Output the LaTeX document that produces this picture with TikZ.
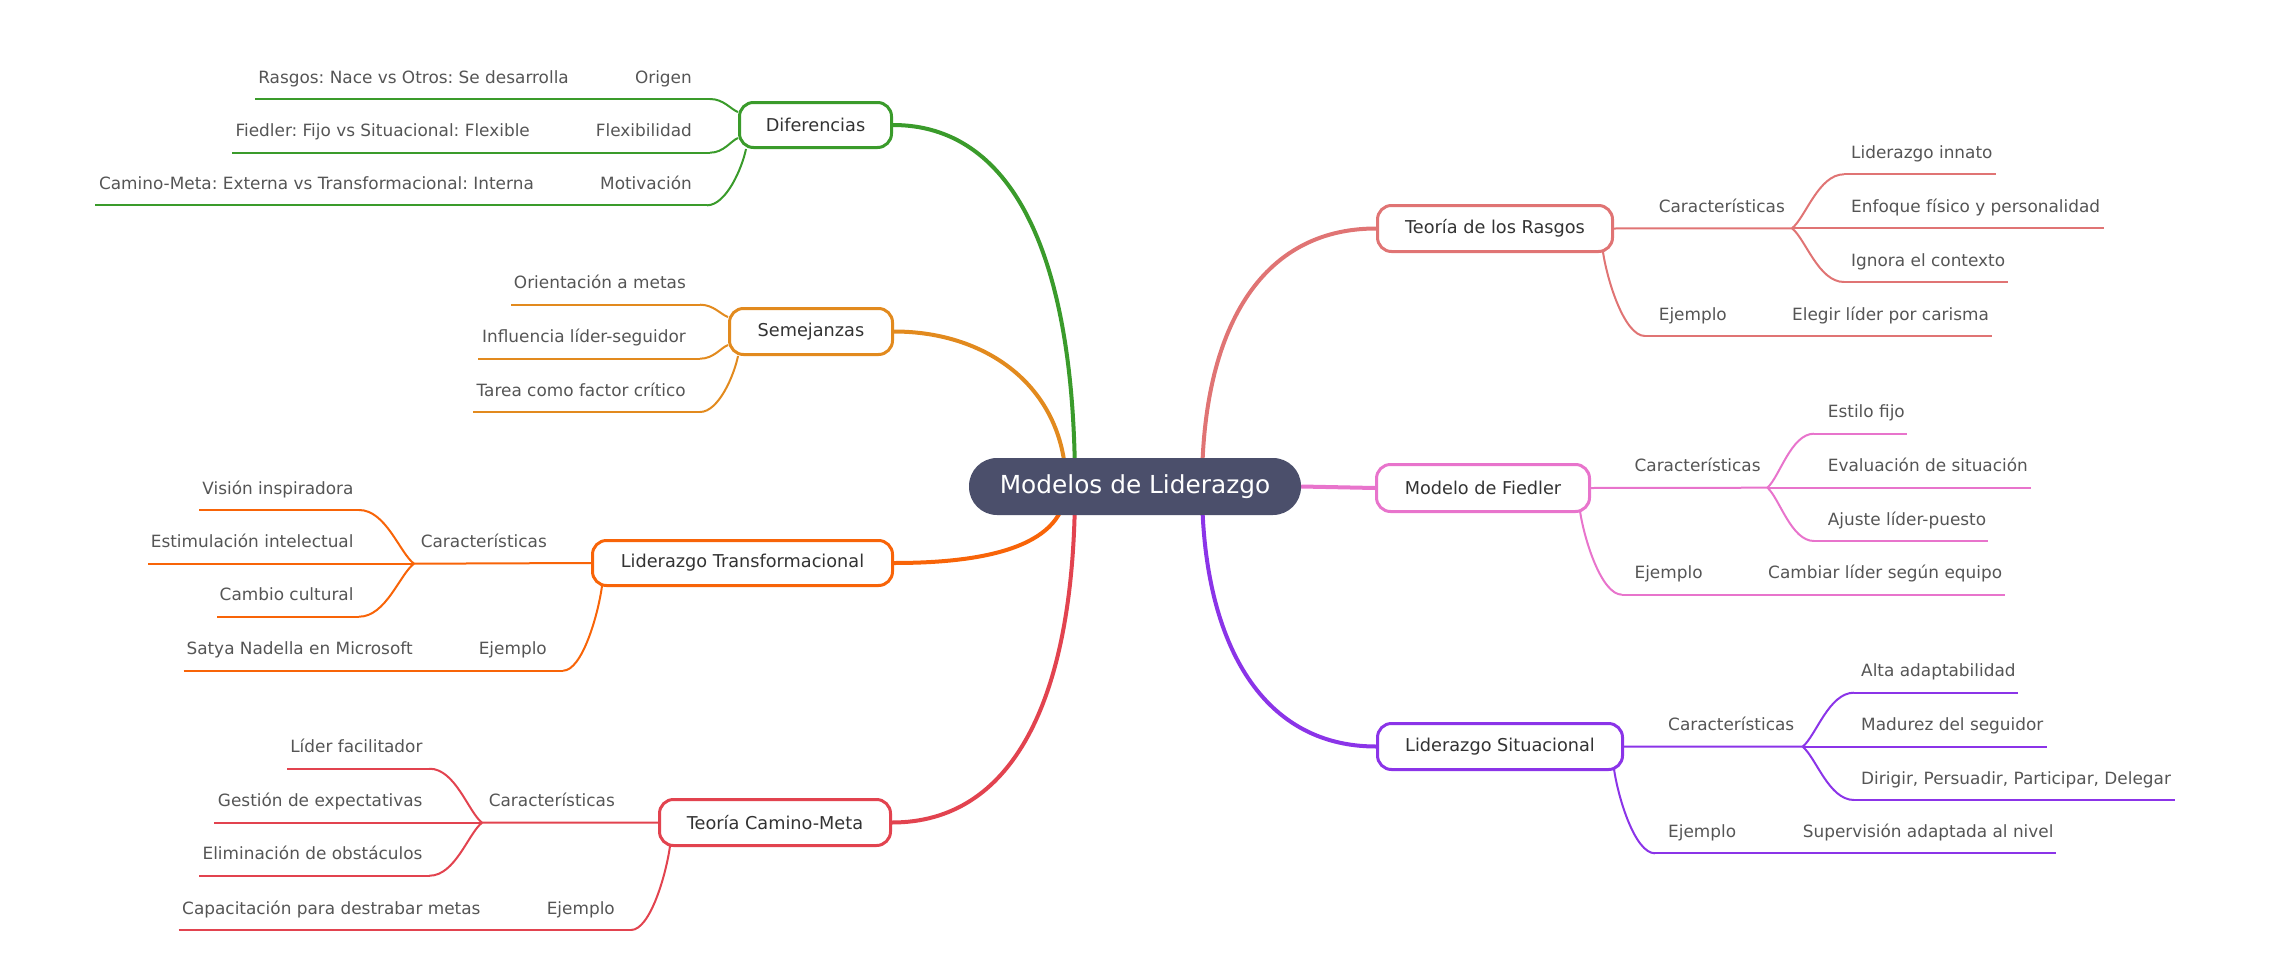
\documentclass[tikz,border=0pt]{standalone}
\usepackage{fontspec}
\setmainfont{DejaVu Sans}
\usetikzlibrary{calc}
\pgfdeclarelayer{bg}
\pgfsetlayers{bg,main}
\frenchspacing
\definecolor{cgreen}{HTML}{3A9B2B}
\definecolor{csem}{HTML}{E28A1E}
\definecolor{ctra}{HTML}{F86408}
\definecolor{ccam}{HTML}{E2434F}
\definecolor{cras}{HTML}{E07474}
\definecolor{cfie}{HTML}{E874CC}
\definecolor{csit}{HTML}{8B34E8}
\definecolor{rootc}{HTML}{4B4F6B}
\definecolor{txt}{HTML}{555555}
\definecolor{boxtxt}{HTML}{333333}
\tikzset{
  leaf/.style={inner sep=0pt, font=\fontsize{16.9}{20}\selectfont, text=txt},
  mmbox/.style={draw=#1, line width=3pt, fill=white, rounded corners=14pt,
    font=\fontsize{17.7}{21}\selectfont, text=boxtxt, inner sep=0pt},
  mainlink/.style={draw=#1, line width=4pt},
  leafline/.style={draw=#1, line width=2pt},
}
\newcommand\forklink[3]{\draw[leafline=#1] let \p1=(#2), \p2=(#3) in (\p1) .. controls ({\x1+0.26*(\x2-\x1)},{\y1+0.2*(\y2-\y1)}) and ({\x2-0.49*(\x2-\x1)},{\y2}) .. (\p2);}
\newcommand\droplink[3]{\draw[leafline=#1] let \p1=(#2), \p2=(#3) in (\p1) .. controls ({\x1+0.10*(\x2-\x1)},{\y1+0.34*(\y2-\y1)}) and ({\x2-0.49*(\x2-\x1)},{\y2}) .. (\p2);}
\begin{document}
\begin{tikzpicture}[x=1pt,y=-1pt]
\useasboundingbox (0,0) rectangle (2270,974);
% ---------- root and branch boxes
\node[fill=rootc, rounded corners=28pt, minimum width=332pt, minimum height=57pt, inner sep=0pt,
  text=white, font=\fontsize{24.8}{30}\selectfont] (root) at (1135,486.5) {Modelos de Liderazgo};
\node[mmbox=cgreen, minimum width=152pt, minimum height=45pt] (dif) at (815.5,125) {Diferencias};
\node[mmbox=csem, minimum width=163pt, minimum height=46pt] (sem) at (811,331.5) {Semejanzas};
\node[mmbox=ctra, minimum width=300pt, minimum height=45pt] (tra) at (742.5,563) {Liderazgo Transformacional};
\node[mmbox=ccam, minimum width=231pt, minimum height=46pt] (cam) at (775,822.5) {Teoría Camino-Meta};
\node[mmbox=cras, minimum width=235pt, minimum height=46pt] (ras) at (1495,228.5) {Teoría de los Rasgos};
\node[mmbox=cfie, minimum width=213pt, minimum height=47pt] (fie) at (1483,488) {Modelo de Fiedler};
\node[mmbox=csit, minimum width=245pt, minimum height=46pt] (sit) at (1500,746.5) {Liderazgo Situacional};

% ---------- main links
\coordinate (rDif) at (1075,486.5);
\coordinate (rSem) at (1066,486.5);
\coordinate (rTra) at (1066,486.5);
\coordinate (rCam) at (1075,486.5);
\coordinate (rRas) at (1202,486.5);
\coordinate (rSit) at (1202,486.5);
\begin{pgfonlayer}{bg}
\draw[mainlink=cgreen] (dif.east) .. controls (1010,125) and (1075,250) .. (rDif);
\draw[mainlink=csem] (sem.east) .. controls (990,331.5) and (1066,390) .. (rSem);
\draw[mainlink=ctra] (tra.east) .. controls (990,563) and (1066,545) .. (rTra);
\draw[mainlink=ccam] (cam.east) .. controls (1010,822.5) and (1075,705) .. (rCam);
\draw[mainlink=cras] (rRas) .. controls (1202,330) and (1260,228.5) .. (ras.west);
\draw[mainlink=cfie] (root.east) -- (fie.west);
\draw[mainlink=csit] (rSit) .. controls (1202,640) and (1260,746.5) .. (sit.west);
\end{pgfonlayer}

% ================= Diferencias
\node[leaf, anchor=base east] (d1) at (692,83) {Origen};
\node[leaf, anchor=base east] (d1a) at (569,83) {Rasgos: Nace vs Otros: Se desarrolla};
\node[leaf, anchor=base east] (d2) at (692,136.7) {Flexibilidad};
\node[leaf, anchor=base east] (d2a) at (530,136.7) {Fiedler: Fijo vs Situacional: Flexible};
\node[leaf, anchor=base east] (d3) at (692,189.3) {Motivación};
\node[leaf, anchor=base east] (d3a) at (534,189.3) {Camino-Meta: Externa vs Transformacional: Interna};
\coordinate (d1L) at (255,99); \coordinate (d1R) at (710,99); \coordinate (d1B) at (738,112);
\coordinate (d2L) at (232,152.7); \coordinate (d2R) at (710,152.7); \coordinate (d2B) at (738,138);
\coordinate (d3L) at (95,205.3); \coordinate (d3R) at (707,205.3); \coordinate (d3B) at (746,149);
\begin{pgfonlayer}{bg}
\draw[leafline=cgreen] (d1L) -- (d1R); \forklink{cgreen}{d1B}{d1R}
\draw[leafline=cgreen] (d2L) -- (d2R); \forklink{cgreen}{d2B}{d2R}
\draw[leafline=cgreen] (d3L) -- (d3R); \droplink{cgreen}{d3B}{d3R}
\end{pgfonlayer}

% ================= Semejanzas
\node[leaf, anchor=base east] (s1) at (686,288.7) {Orientación a metas};
\node[leaf, anchor=base east] (s2) at (686,342.7) {Influencia líder-seguidor};
\node[leaf, anchor=base east] (s3) at (686,396) {Tarea como factor crítico};
\coordinate (s1L) at (511,304.7); \coordinate (s1R) at (700,304.7); \coordinate (s1B) at (728,317);
\coordinate (s2L) at (478,358.7); \coordinate (s2R) at (700,358.7); \coordinate (s2B) at (728,345);
\coordinate (s3L) at (473,412); \coordinate (s3R) at (700,412); \coordinate (s3B) at (738,356);
\begin{pgfonlayer}{bg}
\draw[leafline=csem] (s1L) -- (s1R); \forklink{csem}{s1B}{s1R}
\draw[leafline=csem] (s2L) -- (s2R); \forklink{csem}{s2B}{s2R}
\draw[leafline=csem] (s3L) -- (s3R); \droplink{csem}{s3B}{s3R}
\end{pgfonlayer}

% ================= Liderazgo Transformacional
\node[leaf, anchor=base east] (t1) at (547,547.7) {Características};
\node[leaf, anchor=base east] (t1a) at (353.7,494) {Visión inspiradora};
\node[leaf, anchor=base east] (t1b) at (353.7,547.7) {Estimulación intelectual};
\node[leaf, anchor=base east] (t1c) at (353.7,600.7) {Cambio cultural};
\node[leaf, anchor=base east] (t2) at (547,654.7) {Ejemplo};
\node[leaf, anchor=base east] (t2a) at (412.8,654.7) {Satya Nadella en Microsoft};
\coordinate (t1F) at (414,563.7);
\coordinate (taL) at (199,510); \coordinate (taR) at (359,510);
\coordinate (tbL) at (148,563.7);
\coordinate (tcL) at (217,616.7); \coordinate (tcR) at (359,616.7);
\coordinate (t2L) at (183.7,670.7); \coordinate (t2R) at (563,670.7); \coordinate (t2B) at (602,586);
\begin{pgfonlayer}{bg}
\draw[leafline=ctra] (t1F) -- (tra.west);
\draw[leafline=ctra] (tbL) -- (t1F);
\draw[leafline=ctra] (taL) -- (taR); \forklink{ctra}{t1F}{taR}
\draw[leafline=ctra] (tcL) -- (tcR); \forklink{ctra}{t1F}{tcR}
\draw[leafline=ctra] (t2L) -- (t2R); \droplink{ctra}{t2B}{t2R}
\end{pgfonlayer}

% ================= Teoría Camino-Meta
\node[leaf, anchor=base east] (c1) at (615,806.7) {Características};
\node[leaf, anchor=base east] (c1a) at (422.7,752.7) {Líder facilitador};
\node[leaf, anchor=base east] (c1b) at (422.7,806.7) {Gestión de expectativas};
\node[leaf, anchor=base east] (c1c) at (422.7,859.7) {Eliminación de obstáculos};
\node[leaf, anchor=base east] (c2) at (615,914) {Ejemplo};
\node[leaf, anchor=base east] (c2a) at (480.7,914) {Capacitación para destrabar metas};
\coordinate (c1F) at (482,822.7);
\coordinate (caL) at (287,768.7); \coordinate (caR) at (429.5,768.7);
\coordinate (cbL) at (214,822.7);
\coordinate (ccL) at (199,875.7); \coordinate (ccR) at (429.5,875.7);
\coordinate (c2L) at (178.5,930); \coordinate (c2R) at (631,930); \coordinate (c2B) at (670,846);
\begin{pgfonlayer}{bg}
\draw[leafline=ccam] (c1F) -- (cam.west);
\draw[leafline=ccam] (cbL) -- (c1F);
\draw[leafline=ccam] (caL) -- (caR); \forklink{ccam}{c1F}{caR}
\draw[leafline=ccam] (ccL) -- (ccR); \forklink{ccam}{c1F}{ccR}
\draw[leafline=ccam] (c2L) -- (c2R); \droplink{ccam}{c2B}{c2R}
\end{pgfonlayer}

% ================= Teoría de los Rasgos
\node[leaf, anchor=base west] (r1) at (1658.6,212.3) {Características};
\node[leaf, anchor=base west] (r1a) at (1851,158.3) {Liderazgo innato};
\node[leaf, anchor=base west] (r1b) at (1851,212.3) {Enfoque físico y personalidad};
\node[leaf, anchor=base west] (r1c) at (1851,266) {Ignora el contexto};
\node[leaf, anchor=base west] (r2) at (1658.6,320) {Ejemplo};
\node[leaf, anchor=base west] (r2a) at (1792,320) {Elegir líder por carisma};
\coordinate (r1F) at (1792,228.3);
\coordinate (raL) at (1844,174.3); \coordinate (raR) at (1996,174.3);
\coordinate (rbR) at (2104,228.3);
\coordinate (rcL) at (1844,282); \coordinate (rcR) at (2008,282);
\coordinate (r2B) at (1603,252); \coordinate (r2L) at (1645,336); \coordinate (r2R) at (1992,336);
\begin{pgfonlayer}{bg}
\draw[leafline=cras] (ras.east) -- (r1F);
\draw[leafline=cras] (r1F) -- (rbR);
\draw[leafline=cras] (raL) -- (raR); \forklink{cras}{r1F}{raL}
\draw[leafline=cras] (rcL) -- (rcR); \forklink{cras}{r1F}{rcL}
\draw[leafline=cras] (r2L) -- (r2R); \droplink{cras}{r2B}{r2L}
\end{pgfonlayer}

% ================= Modelo de Fiedler
\node[leaf, anchor=base west] (f1) at (1634.4,471.7) {Características};
\node[leaf, anchor=base west] (f1a) at (1827.7,417.7) {Estilo fijo};
\node[leaf, anchor=base west] (f1b) at (1827.7,471.7) {Evaluación de situación};
\node[leaf, anchor=base west] (f1c) at (1827.7,525) {Ajuste líder-puesto};
\node[leaf, anchor=base west] (f2) at (1634.4,578.7) {Ejemplo};
\node[leaf, anchor=base west] (f2a) at (1768,578.7) {Cambiar líder según equipo};
\coordinate (f1F) at (1767.4,487.7);
\coordinate (faL) at (1814,433.7); \coordinate (faR) at (1906.7,433.7);
\coordinate (fbR) at (2030.8,487.7);
\coordinate (fcL) at (1814,541); \coordinate (fcR) at (1988,541);
\coordinate (f2B) at (1580,511); \coordinate (f2L) at (1622,594.7); \coordinate (f2R) at (2005,594.7);
\begin{pgfonlayer}{bg}
\draw[leafline=cfie] (fie.east) -- (f1F);
\draw[leafline=cfie] (f1F) -- (fbR);
\draw[leafline=cfie] (faL) -- (faR); \forklink{cfie}{f1F}{faL}
\draw[leafline=cfie] (fcL) -- (fcR); \forklink{cfie}{f1F}{fcL}
\draw[leafline=cfie] (f2L) -- (f2R); \droplink{cfie}{f2B}{f2L}
\end{pgfonlayer}

% ================= Liderazgo Situacional
\node[leaf, anchor=base west] (x1) at (1668,730.7) {Características};
\node[leaf, anchor=base west] (x1a) at (1861,676.7) {Alta adaptabilidad};
\node[leaf, anchor=base west] (x1b) at (1861,730.7) {Madurez del seguidor};
\node[leaf, anchor=base west] (x1c) at (1861,784) {Dirigir, Persuadir, Participar, Delegar};
\node[leaf, anchor=base west] (x2) at (1668,837.3) {Ejemplo};
\node[leaf, anchor=base west] (x2a) at (1802.6,837.3) {Supervisión adaptada al nivel};
\coordinate (x1F) at (1802.6,746.7);
\coordinate (xaL) at (1854,692.7); \coordinate (xaR) at (2018,692.7);
\coordinate (xbR) at (2046.5,746.7);
\coordinate (xcL) at (1854,800); \coordinate (xcR) at (2175,800);
\coordinate (x2B) at (1614,769); \coordinate (x2L) at (1655,853.3); \coordinate (x2R) at (2056,853.3);
\begin{pgfonlayer}{bg}
\draw[leafline=csit] (sit.east) -- (x1F);
\draw[leafline=csit] (x1F) -- (xbR);
\draw[leafline=csit] (xaL) -- (xaR); \forklink{csit}{x1F}{xaL}
\draw[leafline=csit] (xcL) -- (xcR); \forklink{csit}{x1F}{xcL}
\draw[leafline=csit] (x2L) -- (x2R); \droplink{csit}{x2B}{x2L}
\end{pgfonlayer}
\end{tikzpicture}
\end{document}
